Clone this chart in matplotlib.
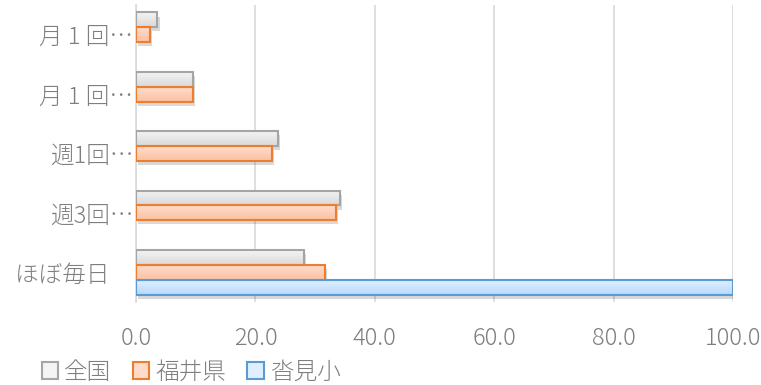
import numpy as np
import matplotlib
matplotlib.use('Agg')
import matplotlib.pyplot as plt
import matplotlib.patheffects as pe
from matplotlib.patches import Patch
from matplotlib.colors import LinearSegmentedColormap

plt.rcParams['font.family'] = ['Noto Sans CJK JP', 'DejaVu Sans']
plt.rcParams['font.weight'] = 'light'

# categories, top to bottom
categories = ['月 1 回…', '月 1 回…', '週1回…', '週3回…', 'ほぼ毎日\u3000']
series = ['全国', '福井県', '沓見小']
zenkoku = [3.6, 9.6, 23.8, 34.2, 28.1]
fukui = [2.4, 9.5, 22.7, 33.5, 31.7]
kutsumi = [0.0, 0.0, 0.0, 0.0, 100.0]
xticks = [0, 20, 40, 60, 80, 100]

edge_colors = ['#a5a5a5', '#ed7d31', '#5b9bd5']
grad_top = ['#f4f4f4', '#ffdcc9', '#e0efff']
grad_bot = ['#d9d9d9', '#fbc1a2', '#b7d9fd']
txt = '#7f7f7f'

fig = plt.figure(figsize=(7.61, 3.85), dpi=100)
ax = fig.add_axes([136 / 761, 1 - 302 / 385, (733 - 136) / 761, (302 - 5) / 385])

y = np.arange(len(categories))
h = 0.25
offsets = [-h, 0, h]
data = [zenkoku, fukui, kutsumi]

shadow = [pe.SimplePatchShadow(offset=(1.5, -3), shadow_rgbFace='#000000', alpha=0.15), pe.Normal()]

for k, vals in enumerate(data):
    bars = ax.barh(y + offsets[k], vals, height=h, color=grad_bot[k], edgecolor='none',
                   zorder=3, path_effects=shadow)
    cmap = LinearSegmentedColormap.from_list('g%d' % k, [grad_top[k], grad_bot[k]])
    for b, v in zip(bars, vals):
        if v == 0:
            b.set_visible(False)
            continue
        x0, y0 = b.get_x(), b.get_y()
        w, hh = b.get_width(), b.get_height()
        # vertical gradient, lighter on top (y axis inverted)
        im = ax.imshow(np.linspace(0, 1, 50).reshape(-1, 1), cmap=cmap, aspect='auto',
                       extent=(x0, x0 + w, y0 + hh, y0), origin='upper', zorder=4,
                       interpolation='bilinear')
        im.set_clip_path(b)
    edges = ax.barh(y + offsets[k], vals, height=h, color='none', edgecolor=edge_colors[k],
                    linewidth=1.5, zorder=5)
    for b, v in zip(edges, vals):
        if v == 0:
            b.set_visible(False)

ax.set_xlim(0, 100)
ax.set_ylim(len(categories) - 0.5, -0.5)
ax.set_xticks(xticks)
ax.set_xticklabels(['%.1f' % t for t in xticks])
ax.set_yticks(y)
ax.set_yticklabels(categories)
ax.tick_params(axis='both', length=0, labelsize=17, colors=txt)
ax.tick_params(axis='x', pad=17)
ax.tick_params(axis='y', pad=2)

ax.grid(axis='x', color='#d9d9d9', linewidth=1.2, zorder=0)
ax.set_axisbelow(True)
for s in ['top', 'right', 'bottom']:
    ax.spines[s].set_visible(False)
ax.spines['left'].set_color('#d9d9d9')
ax.spines['left'].set_linewidth(1.2)

handles = [Patch(facecolor=grad_top[k], edgecolor=edge_colors[k], linewidth=1.5) for k in range(3)]
fig.legend(handles, series, loc='lower left', bbox_to_anchor=(0.027, -0.055), ncol=3,
           frameon=False, fontsize=17, labelcolor=txt, handlelength=0.7, handleheight=0.7,
           handletextpad=0.25, columnspacing=0.9)

fig.savefig('out.png', dpi=100)
